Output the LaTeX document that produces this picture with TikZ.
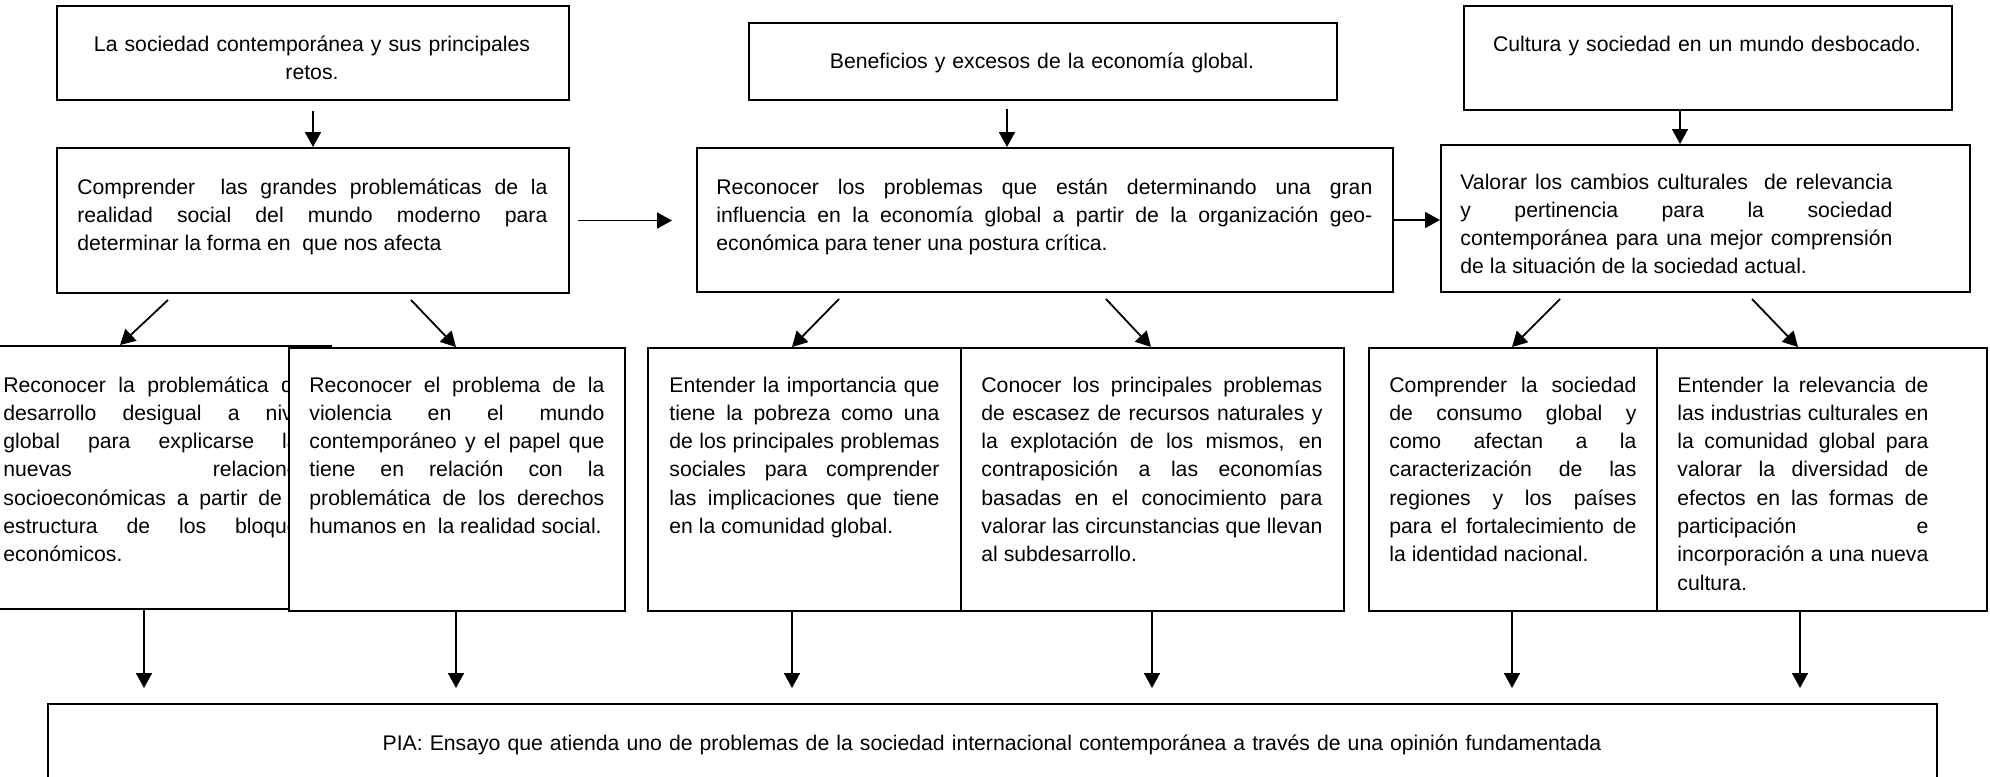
\documentclass[tikz,border=0pt]{standalone}
\usepackage{fontspec}
\setmainfont{Liberation Sans}
\usetikzlibrary{arrows.meta,calc}
\newcommand\jl[1]{\makebox[\hsize][s]{\spaceskip=0pt\xspaceskip=0pt\relax #1}\\}
\newcommand\lastln[1]{\mbox{#1}}
\begin{document}
\begin{tikzpicture}[x=0.5pt,y=-0.5pt,
  box/.style={draw, line width=1pt, fill=white, inner sep=0pt, anchor=north west},
  txt/.style={inner sep=0pt, anchor=base west, align=justify, font=\fontsize{10.6pt}{14.15pt}\selectfont},
  ctxt/.style={inner sep=0pt, anchor=base, align=center, font=\fontsize{10.6pt}{14.15pt}\selectfont},
  arr/.style={line width=0.9pt, -{Triangle[length=7.5pt,width=8pt]}}]
\useasboundingbox (0,0) rectangle (1990,776);

% top row
\node[box, minimum width=256pt, minimum height=47pt] (T1) at (56,5) {};
\node[ctxt, text width=250pt] (tT1) at (312,51) {La sociedad contemporánea y sus principales\\ retos.};
\node[box, minimum width=294pt, minimum height=38.5pt] (T2) at (748,22) {};
\node[ctxt, text width=280pt] (tT2) at (1042,68) {Beneficios y excesos de la economía global.};
\node[box, minimum width=244pt, minimum height=52pt] (T3) at (1463,5) {};
\node[ctxt, text width=240pt] (tT3) at (1707,51) {Cultura y sociedad en un mundo desbocado.};

% objectives row
\node[box, minimum width=256pt, minimum height=72.5pt] (O1) at (56,147) {};
\node[txt, text width=235pt] (tO1) at (77,194) {\jl{Comprender~~las grandes problemáticas de la}
\jl{realidad social del mundo moderno para}
\lastln{determinar la forma en~~que nos afecta}};
\node[box, minimum width=348pt, minimum height=72pt] (O2) at (696,147) {};
\node[txt, text width=328pt] (tO2) at (716,194) {\jl{Reconocer los problemas que están determinando una gran}
\jl{influencia en la economía global a partir de la organización geo-}
\lastln{económica para tener una postura crítica.}};
\node[box, minimum width=264.5pt, minimum height=73.5pt] (O3) at (1440,144) {};
\node[txt, text width=216pt] (tO3) at (1460,189) {\jl{Valorar los cambios culturales~~de relevancia}
\jl{y pertinencia para la sociedad}
\jl{contemporánea para una mejor comprensión}
\lastln{de la situación de la sociedad actual.}};

% lower row
\node[box, minimum width=170pt, minimum height=131.5pt] (A) at (-10,345) {};
\begin{scope}
\clip (0,340) rectangle (288,620);
\node[txt, text width=153pt] (tA) at (3,392) {\jl{Reconocer la problemática del}
\jl{desarrollo desigual a nivel}
\jl{global para explicarse las}
\jl{nuevas relaciones}
\jl{socioeconómicas a partir de la}
\jl{estructura de los bloques}
\lastln{económicos.}};
\end{scope}
\node[box, minimum width=168pt, minimum height=131.5pt] (B) at (288,347) {};
\node[txt, text width=147.5pt] (tB) at (309,392) {\jl{Reconocer el problema de la}
\jl{violencia en el mundo}
\jl{contemporáneo y el papel que}
\jl{tiene en relación con la}
\jl{problemática de los derechos}
\lastln{humanos en~~la realidad social.}};
\node[box, minimum width=156.5pt, minimum height=131.5pt] (C) at (647,347) {};
\node[txt, text width=135pt] (tC) at (669,392) {\jl{Entender la importancia que}
\jl{tiene la pobreza como una}
\jl{de los principales problemas}
\jl{sociales para comprender}
\jl{las implicaciones que tiene}
\lastln{en la comunidad global.}};
\node[box, minimum width=191.5pt, minimum height=131.5pt] (D) at (960,347) {};
\node[txt, text width=170.5pt] (tD) at (981,392) {\jl{Conocer los principales problemas}
\jl{de escasez de recursos naturales y}
\jl{la explotación de los mismos, en}
\jl{contraposición a las economías}
\jl{basadas en el conocimiento para}
\jl{valorar las circunstancias que llevan}
\lastln{al subdesarrollo.}};
\node[box, minimum width=144pt, minimum height=131.5pt] (E) at (1368,347) {};
\node[txt, text width=123.5pt] (tE) at (1389,392) {\jl{Comprender la sociedad}
\jl{de consumo global y}
\jl{como afectan a la}
\jl{caracterización de las}
\jl{regiones y los países}
\jl{para el fortalecimiento de}
\lastln{la identidad nacional.}};
\node[box, minimum width=165pt, minimum height=131.5pt] (F) at (1656,347) {};
\node[txt, text width=125.5pt] (tF) at (1677,392) {\jl{Entender la relevancia de}
\jl{las industrias culturales en}
\jl{la comunidad global para}
\jl{valorar la diversidad de}
\jl{efectos en las formas de}
\jl{participación e}
\jl{incorporación a una nueva}
\lastln{cultura.}};

% final box
\node[inner sep=0pt, anchor=north west, minimum width=944pt, minimum height=36pt] (pia) at (48,704) {};
\draw[line width=1pt] (pia.south west) -- (pia.north west) -- (pia.north east) -- (pia.south east);
\node[ctxt, text width=900pt] (tpia) at (992,750) {PIA: Ensayo que atienda uno de problemas de la sociedad internacional contemporánea a través de una opinión fundamentada};

% arrows top -> objectives
\draw[arr, shorten <=5pt] (T1.south) -- (O1.north);
\draw[arr, shorten <=4pt] ([xshift=129.5pt]T2.south west) -- ([xshift=155.5pt]O2.north west);
\draw[arr] ([xshift=108.5pt]T3.south west) -- ([xshift=120pt]O3.north west);
\draw[arr, shorten <=4pt, shorten >=12pt] (O1.east) -- (O1.east -| O2.west);
\draw[arr] (O2.east) -- (O2.east -| O3.west);

% diagonal arrows
\draw[arr] ([xshift=56pt,yshift=-3pt]O1.south west) -- ([xshift=65pt]A.north west);
\draw[arr] ([xshift=177.5pt,yshift=-3pt]O1.south west) -- ([xshift=84pt]B.north west);
\draw[arr] ([xshift=71.5pt,yshift=-3pt]O2.south west) -- ([xshift=72.5pt]C.north west);
\draw[arr] ([xshift=205pt,yshift=-3pt]O2.south west) -- ([xshift=95.5pt]D.north west);
\draw[arr] ([xshift=60pt,yshift=-3pt]O3.south west) -- ([xshift=72pt]E.north west);
\draw[arr] ([xshift=156pt,yshift=-3pt]O3.south west) -- ([xshift=71pt]F.north west);

% down arrows to PIA
\coordinate (dA) at ([xshift=77pt]A.south west);
\coordinate (dB) at ([xshift=84pt]B.south west);
\coordinate (dC) at ([xshift=72.5pt]C.south west);
\coordinate (dD) at ([xshift=96pt]D.south west);
\coordinate (dE) at ([xshift=72pt]E.south west);
\coordinate (dF) at ([xshift=72pt]F.south west);
\foreach \c in {dA,dB,dC,dD,dE,dF}
  \draw[arr, shorten >=8pt] (\c) -- (\c |- pia.north);
\end{tikzpicture}
\end{document}
